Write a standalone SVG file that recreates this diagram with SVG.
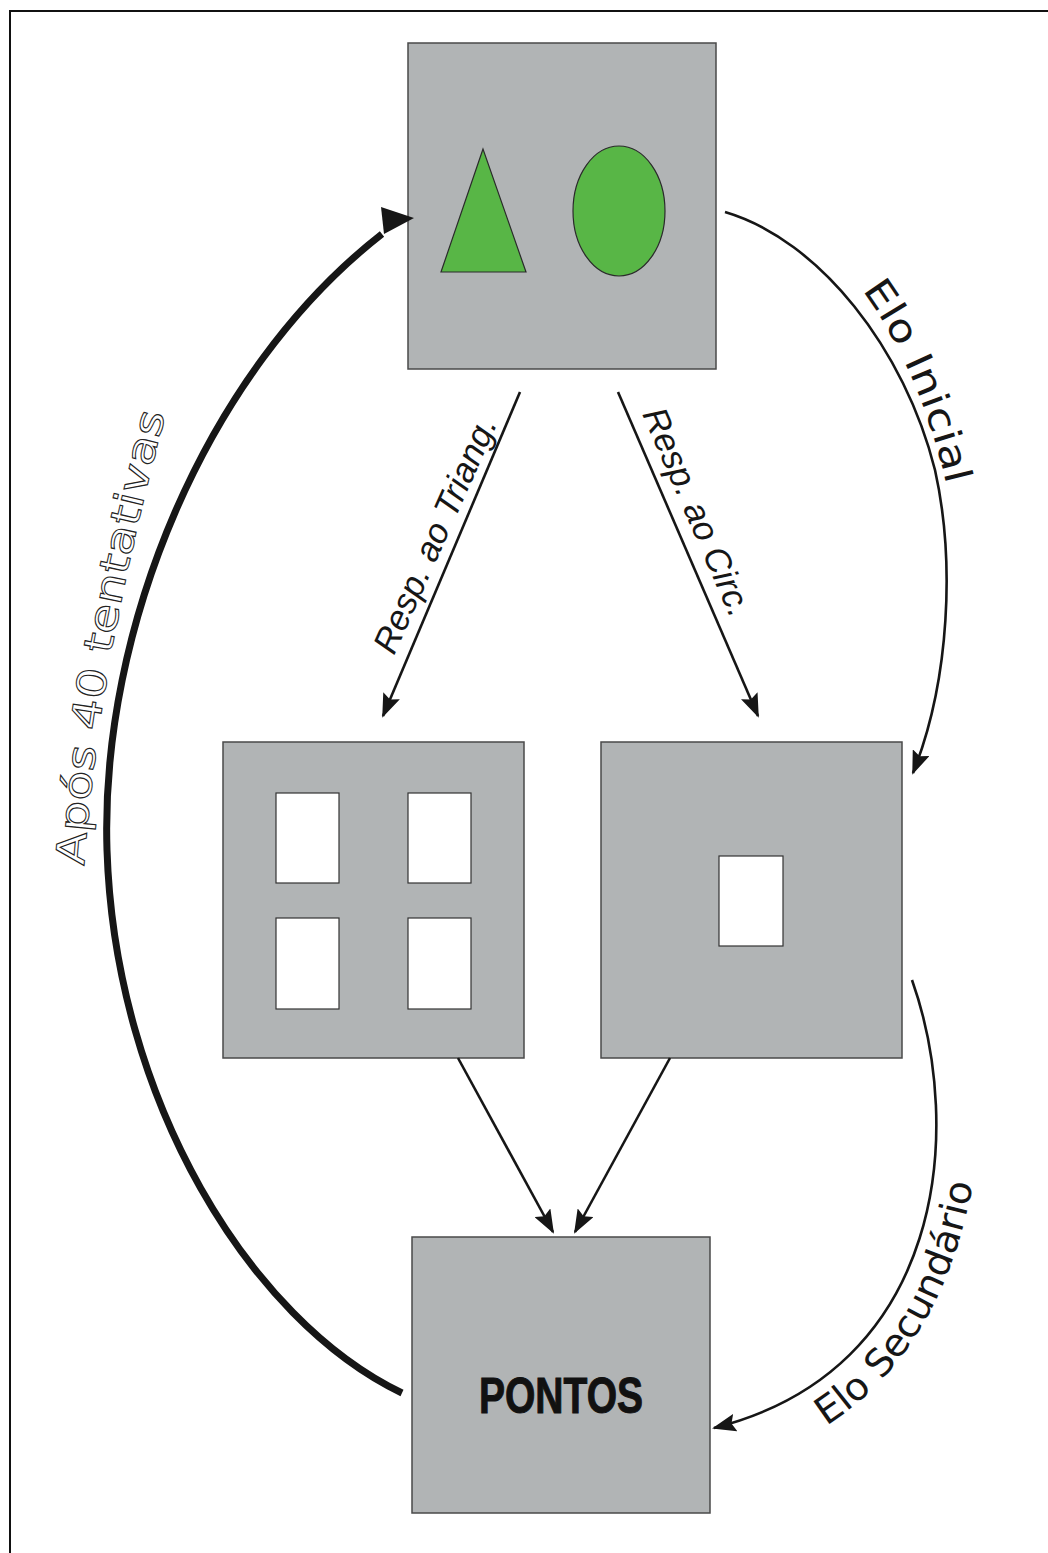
<svg xmlns="http://www.w3.org/2000/svg" width="1048" height="1553" viewBox="0 0 1048 1553">
<style>
.box{fill:#b1b4b5;stroke:#4a4a4a;stroke-width:1.5}
.win{fill:#ffffff;stroke:#333333;stroke-width:1.2}
.shape{fill:#58b646;stroke:#2a2a2a;stroke-width:1.2}
.thin{fill:none;stroke:#161616;stroke-width:2.6}
.thick{fill:none;stroke:#161616;stroke-width:7}
.resp{font-family:"Liberation Sans",Arial,sans-serif;font-style:italic;font-size:35px;fill:#161616}
.elo{font-family:"DejaVu Sans","Liberation Sans",sans-serif;font-weight:normal;font-size:38px;fill:#161616}
.apos{font-family:"DejaVu Sans","Liberation Sans",sans-serif;font-weight:normal;font-size:40px;fill:#ffffff;stroke:#222222;stroke-width:1}
.pontos{font-family:"Liberation Sans",Arial,sans-serif;font-weight:bold;font-size:50px;fill:#111111;stroke:#111111;stroke-width:1}
</style>
<defs>
<marker id="arr" viewBox="0 0 24 18" refX="22" refY="9" markerWidth="24" markerHeight="18" markerUnits="userSpaceOnUse" orient="auto">
<path d="M0,0 L24,9 L0,18 L4,9 z" fill="#161616"/>
</marker>
<path id="p-elo1" d="M862,290 Q 922,372 950,500"/>
<path id="p-elo2" d="M826,1426 Q 952,1345 978,1152"/>
<path id="p-apos" d="M84,866 C 92,760 110,620 168,405"/>
</defs>
<rect x="10" y="11" width="1060" height="1560" fill="none" stroke="#111111" stroke-width="2"/>

<g id="node-estimulos">
<rect class="box" x="408" y="43" width="308" height="326"/>
<polygon class="shape" points="483,149 441,272 526,272"/>
<ellipse class="shape" cx="619" cy="211" rx="46" ry="65"/>
</g>
<g id="node-triangulo">
<rect class="box" x="223" y="742" width="301" height="316"/>
<rect class="win" x="276" y="793" width="63" height="90"/>
<rect class="win" x="408" y="793" width="63" height="90"/>
<rect class="win" x="276" y="918" width="63" height="91"/>
<rect class="win" x="408" y="918" width="63" height="91"/>
</g>
<g id="node-circulo">
<rect class="box" x="601" y="742" width="301" height="316"/>
<rect class="win" x="719" y="856" width="64" height="90"/>
</g>
<g id="node-pontos">
<rect class="box" x="412" y="1237" width="298" height="276"/>
<text class="pontos" x="479" y="1413" textLength="164" lengthAdjust="spacingAndGlyphs">PONTOS</text>
</g>

<g id="connectors">
<path class="thin" d="M520,392 L383,716" marker-end="url(#arr)"/>
<path class="thin" d="M618,392 L758,716" marker-end="url(#arr)"/>
<path class="thin" d="M458,1058 L553,1232" marker-end="url(#arr)"/>
<path class="thin" d="M670,1058 L575,1232" marker-end="url(#arr)"/>
<path class="thin" d="M725,212 C 820,240 905,350 935,470 C 955,560 950,680 913,773" marker-end="url(#arr)"/>
<path class="thin" d="M912,980 C 965,1130 945,1370 714,1428" marker-end="url(#arr)"/>
<path class="thick" d="M402,1393 C 250,1320 115,1100 107,850 C 100,630 205,372 382,234"/>
<polygon points="381,207 414,218 384,234" fill="#161616"/>
</g>

<g id="labels">
<text class="resp" transform="translate(394,656) rotate(-66)" textLength="255" lengthAdjust="spacingAndGlyphs">Resp. ao Triang.</text>
<text class="resp" transform="translate(642,414) rotate(66.6)" textLength="224" lengthAdjust="spacingAndGlyphs">Resp. ao Circ.</text>
<text class="elo"><textPath href="#p-elo1" textLength="214" lengthAdjust="spacingAndGlyphs">Elo Inicial</textPath></text>
<text class="elo"><textPath href="#p-elo2" textLength="292" lengthAdjust="spacingAndGlyphs">Elo Secundário</textPath></text>
<text class="apos"><textPath href="#p-apos" textLength="460" lengthAdjust="spacingAndGlyphs">Após 40 tentativas</textPath></text>
</g>
</svg>
